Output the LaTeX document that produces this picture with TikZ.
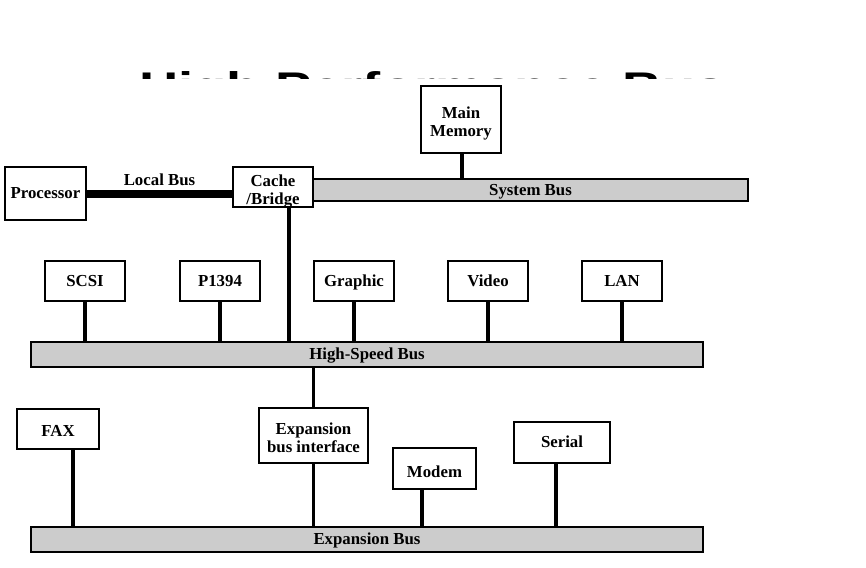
\documentclass[tikz,border=0pt]{standalone}
\usepackage{fontspec}
\setmainfont{Liberation Serif}
\newfontfamily\titlefont{Liberation Sans}
\newcommand\twolines[2]{\raisebox{-17.4pt}[0pt][0pt]{\begin{tabular}[b]{@{}c@{}}#1\\#2\end{tabular}}}
\begin{document}
\begin{tikzpicture}[x=1pt,y=-1pt,
  lbl/.style={font=\fontsize{16.8}{18}\selectfont\bfseries},
  box/.style={draw=black, line width=2.6pt, fill=white, inner sep=0pt, lbl},
  one/.style={text height=10.8pt, text depth=0pt},
  bus/.style={draw=black, line width=2.6pt, fill=black!20, inner sep=0pt, lbl, one},
  conn/.style={line width=3.6pt, line cap=butt}]
\useasboundingbox[fill=white] (0,0) rectangle (866,567);

% clipped title
\begin{scope}
\clip (0,62) rectangle (866,79);
\node[anchor=base, inner sep=0pt] (title) at (432.5,100)
  {\titlefont\fontsize{40}{40}\selectfont\bfseries\scalebox{1.36}[1]{High Performance Bus}};
\end{scope}

% buses
\node[bus, minimum width=435pt, minimum height=22pt] (sysbus) at (530.5,190) {System Bus};
\node[bus, minimum width=672pt, minimum height=25pt] (hsb) at (367,354.5) {High-Speed Bus};
\node[bus, minimum width=672pt, minimum height=25pt] (eb) at (367,539.5) {Expansion Bus};

% top boxes
\node[box, one, minimum width=81pt, minimum height=53pt] (proc) at (45.5,193.5) {Processor};
\node[box, minimum width=80pt, minimum height=40pt] (cache) at (273,187) {\twolines{Cache}{/Bridge}};
\node[box, minimum width=80pt, minimum height=67pt] (mem) at (461,119.5) {\twolines{Main}{Memory}};

% high-speed devices
\node[box, one, minimum width=80pt, minimum height=40pt] (scsi) at (85,281) {SCSI};
\node[box, one, minimum width=80pt, minimum height=40pt] (p1394) at (220,281) {P1394};
\node[box, one, minimum width=80pt, minimum height=40pt] (graphic) at (354,281) {Graphic};
\node[box, one, minimum width=80pt, minimum height=40pt] (video) at (488,281) {Video};
\node[box, one, minimum width=80pt, minimum height=40pt] (lan) at (622,281) {LAN};

% expansion devices
\node[box, minimum width=109pt, minimum height=55pt] (ebi) at (313.5,435.5) {\twolines{Expansion}{bus interface}};
\node[box, one, minimum width=82pt, minimum height=40pt] (fax) at (58,429) {\raisebox{-2pt}{FAX}};
\node[box, one, minimum width=83pt, minimum height=41pt] (modem) at (434.5,468.5) {\raisebox{-4pt}{Modem}};
\node[box, one, minimum width=96pt, minimum height=41pt] (serial) at (562,442.5) {Serial};

% local bus
\draw[line width=8pt] (proc.east) -- (proc.east -| cache.west)
  node[midway, above=4pt, inner sep=0pt, lbl, one] (lblb) {Local Bus};

% connectors
\draw[conn] ([xshift=1pt]mem.south) -- ([xshift=1pt]mem.south |- sysbus.north);
\draw[conn] ([xshift=16pt]cache.south) -- ([xshift=16pt]cache.south |- hsb.north);
\foreach \n in {scsi,p1394,graphic,video,lan}
  \draw[conn] (\n.south) -- (\n.south |- hsb.north);
\draw[conn] (hsb.south -| ebi.north) -- (ebi.north);
\draw[conn] (ebi.south) -- (ebi.south |- eb.north);
\draw[conn] ([xshift=15pt]fax.south) -- ([xshift=15pt]fax.south |- eb.north);
\draw[conn] ([xshift=-12.5pt]modem.south) -- ([xshift=-12.5pt]modem.south |- eb.north);
\draw[conn] ([xshift=-6pt]serial.south) -- ([xshift=-6pt]serial.south |- eb.north);
\end{tikzpicture}
\end{document}
